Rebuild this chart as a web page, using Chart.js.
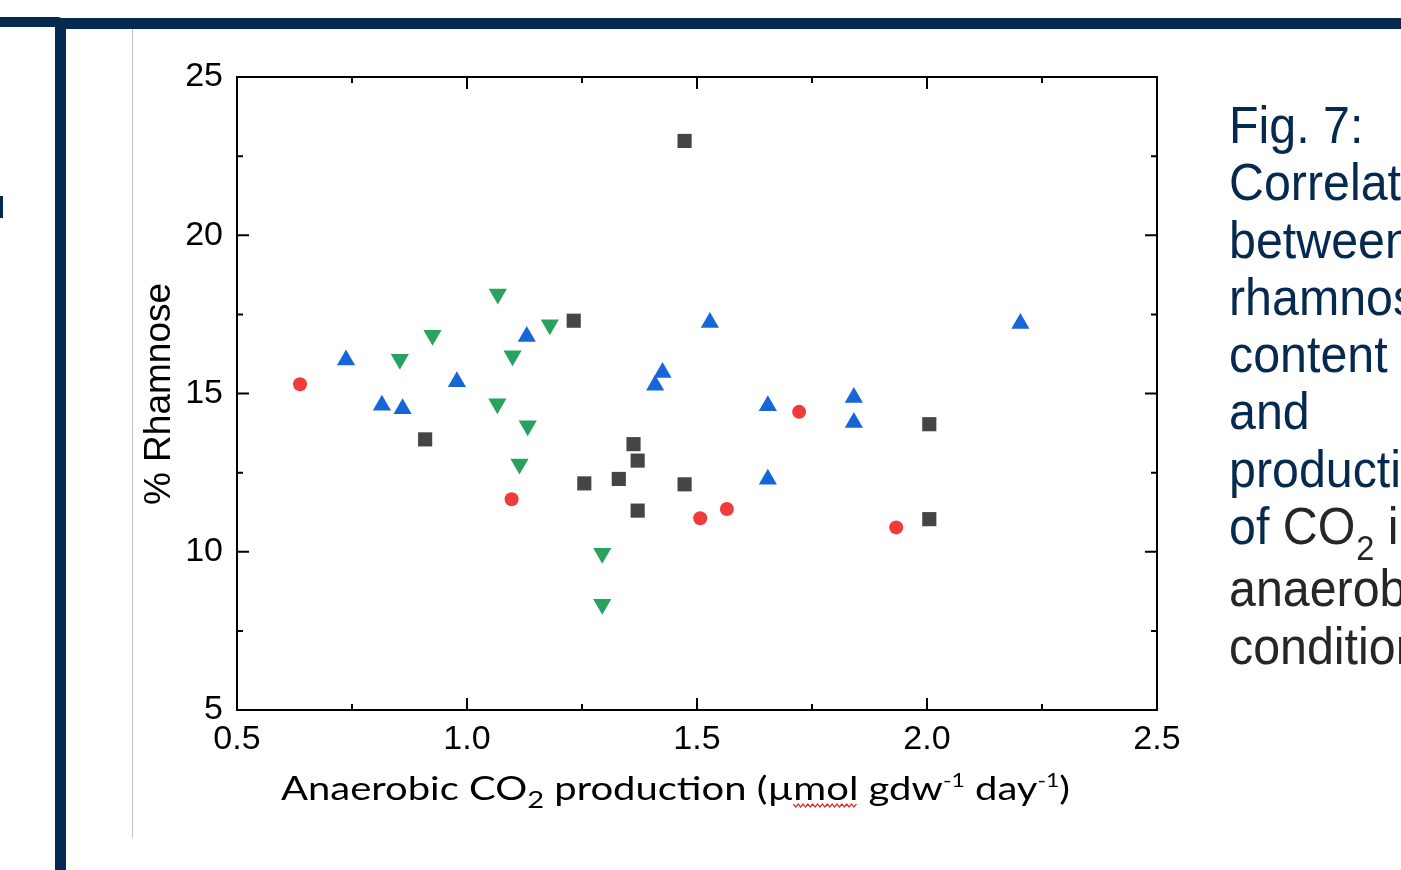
<!DOCTYPE html>
<html>
<head>
<meta charset="utf-8">
<script src="https://cdn.jsdelivr.net/npm/chart.js@4.4.1/dist/chart.umd.min.js"></script>
<style>
  body { margin: 0; background: #fff; }
  #wrap { position: relative; width: 1401px; height: 870px; overflow: hidden; background: #fff; }
  .navy { position: absolute; background: #062a4f; }
  #gline { position: absolute; left: 132px; top: 29px; width: 1px; height: 809px; background: #c4c4c4; }
  #chart { position: absolute; left: 0; top: 0; }
  #caption {
    position: absolute; left: 1229px; top: 97px; white-space: nowrap;
    font-family: "Liberation Sans", Arial, sans-serif; font-size: 52px; line-height: 57.3px;
    color: #062a4f; transform: scaleX(0.93); transform-origin: 0 0;
  }
  #caption .dk { color: #262626; }
  #caption .sub { font-size: 35px; position: relative; top: 16px; margin-left: 1px; }
</style>
</head>
<body>
<div id="wrap">
  <div class="navy" style="left:0;top:17px;width:62px;height:10px;border-top-right-radius:4px"></div>
  <div class="navy" style="left:55px;top:18px;width:1346px;height:11px"></div>
  <div class="navy" style="left:55px;top:18px;width:11px;height:852px"></div>
  <div class="navy" style="left:0;top:196px;width:3px;height:22px"></div>
  <div id="gline"></div>
  <canvas id="chart" width="1401" height="870"></canvas>
  <div id="caption">Fig. 7:<br>Correlation<br>between<br>rhamnose<br>content<br>and<br>production<br>of <span class="dk">CO<span class="sub">2</span> in</span><br><span class="dk">anaerobic</span><br><span class="dk">conditions</span></div>
</div>
<script>
// tick values
const xTickValues = [0.5, 1.0, 1.5, 2.0, 2.5];
const yTickValues = [5, 10, 15, 20, 25];

// grey squares
const squareX = [1.473, 1.232, 0.909, 1.362, 1.371, 1.255, 1.330, 1.473, 1.371, 2.005, 2.005];
const squareY = [22.98, 17.30, 13.55, 13.40, 12.88, 12.16, 12.30, 12.13, 11.30, 14.03, 11.03];

// red circles
const circleX = [0.637, 1.097, 1.507, 1.565, 1.722, 1.933];
const circleY = [15.29, 11.66, 11.06, 11.35, 14.42, 10.77];

// blue up-triangles
const upX = [0.737, 0.815, 0.860, 0.978, 1.130, 1.528, 1.425, 1.409, 1.654, 1.841, 1.841, 1.654, 2.203];
const upY = [16.06, 14.63, 14.52, 15.37, 16.80, 17.24, 15.66, 15.26, 14.61, 14.87, 14.08, 12.29, 17.21];

// green down-triangles
const downX = [1.067, 0.925, 0.854, 1.180, 1.099, 1.066, 1.132, 1.114, 1.294, 1.294];
const downY = [18.14, 16.84, 16.08, 17.17, 16.19, 14.68, 13.98, 12.77, 9.95, 8.34];

const xTitleParts = [
  { t: 'Anaerobic CO', k: 'n' },
  { t: '2', k: 'sub' },
  { t: ' production (\u00b5', k: 'n' },
  { t: 'mol', k: 'n', squiggle: true },
  { t: ' gdw', k: 'n' },
  { t: '-1', k: 'sup' },
  { t: ' day', k: 'n' },
  { t: '-1', k: 'sup' },
  { t: ')', k: 'n' }
];
const yTitle = '% Rhamnose';

function pts(xs, ys) {
  return xs.map((x, i) => ({ x: x, y: ys[i] }));
}

const tickFont = { family: '"Liberation Sans", Arial, sans-serif', size: 34 };

// box + inward ticks on all four sides
const frame = {
  id: 'frame',
  afterDatasetsDraw(chart) {
    const ctx = chart.ctx;
    const a = chart.chartArea;
    const xs = chart.scales.x, ys = chart.scales.y;
    ctx.save();
    ctx.strokeStyle = '#000';
    ctx.lineWidth = 2;
    ctx.strokeRect(a.left, a.top, a.right - a.left, a.bottom - a.top);
    ctx.beginPath();
    for (let i = 0; i < xTickValues.length; i++) {
      const px = xs.getPixelForValue(xTickValues[i]);
      ctx.moveTo(px, a.bottom); ctx.lineTo(px, a.bottom - 12);
      ctx.moveTo(px, a.top); ctx.lineTo(px, a.top + 12);
      if (i < xTickValues.length - 1) {
        const mx = xs.getPixelForValue((xTickValues[i] + xTickValues[i + 1]) / 2);
        ctx.moveTo(mx, a.bottom); ctx.lineTo(mx, a.bottom - 6);
        ctx.moveTo(mx, a.top); ctx.lineTo(mx, a.top + 6);
      }
    }
    for (let i = 0; i < yTickValues.length; i++) {
      const py = ys.getPixelForValue(yTickValues[i]);
      ctx.moveTo(a.left, py); ctx.lineTo(a.left + 12, py);
      ctx.moveTo(a.right, py); ctx.lineTo(a.right - 12, py);
      if (i < yTickValues.length - 1) {
        const my = ys.getPixelForValue((yTickValues[i] + yTickValues[i + 1]) / 2);
        ctx.moveTo(a.left, my); ctx.lineTo(a.left + 6, my);
        ctx.moveTo(a.right, my); ctx.lineTo(a.right - 6, my);
      }
    }
    ctx.stroke();
    ctx.restore();
  }
};

// axis titles with sub/superscripts
const titles = {
  id: 'titles',
  afterDraw(chart) {
    const ctx = chart.ctx;
    const fonts = { n: '33px Lato', sub: '24px Lato', sup: '19px Lato' };
    const shift = { n: 0, sub: 8, sup: -13 };
    ctx.save();
    let total = 0;
    const widths = xTitleParts.map(p => {
      ctx.font = fonts[p.k];
      const w = ctx.measureText(p.t).width;
      total += w;
      return w;
    });
    const left = 281, right = 1070, base = 800;
    ctx.translate(left, base);
    ctx.scale((right - left) / total, 1);
    ctx.fillStyle = '#000';
    ctx.textBaseline = 'alphabetic';
    let x = 0;
    xTitleParts.forEach((p, i) => {
      ctx.font = fonts[p.k];
      ctx.fillText(p.t, x, shift[p.k]);
      if (p.squiggle) {
        ctx.save();
        ctx.strokeStyle = '#e02828';
        ctx.lineWidth = 1.2;
        ctx.beginPath();
        let up = true;
        for (let sx = x; sx <= x + widths[i]; sx += 2) {
          const yy = up ? 4 : 7;
          if (sx === x) ctx.moveTo(sx, yy); else ctx.lineTo(sx, yy);
          up = !up;
        }
        ctx.stroke();
        ctx.restore();
      }
      x += widths[i];
    });
    ctx.restore();

    ctx.save();
    ctx.translate(170, 394);
    ctx.rotate(-Math.PI / 2);
    ctx.font = '37px "Liberation Sans", Arial, sans-serif';
    ctx.fillStyle = '#000';
    ctx.textAlign = 'center';
    ctx.textBaseline = 'alphabetic';
    ctx.fillText(yTitle, 0, 0);
    ctx.restore();
  }
};

new Chart(document.getElementById('chart'), {
  type: 'scatter',
  data: {
    datasets: [
      {
        label: 'squares', data: pts(squareX, squareY),
        pointStyle: 'rect', pointRadius: 10, backgroundColor: '#454545', borderWidth: 0
      },
      {
        label: 'circles', data: pts(circleX, circleY),
        pointStyle: 'circle', pointRadius: 7, backgroundColor: '#f03b3b', borderWidth: 0
      },
      {
        label: 'up', data: pts(upX, upY),
        pointStyle: 'triangle', pointRadius: 10.5, backgroundColor: '#1766d8', borderWidth: 0
      },
      {
        label: 'down', data: pts(downX, downY),
        pointStyle: 'triangle', pointRotation: 180, pointRadius: 10.5, backgroundColor: '#28a25e', borderWidth: 0
      }
    ]
  },
  options: {
    responsive: false,
    animation: false,
    events: [],
    layout: { padding: { left: 0, top: 77, right: 244, bottom: 0 } },
    plugins: { legend: { display: false }, tooltip: { enabled: false } },
    scales: {
      x: {
        type: 'linear', min: 0.5, max: 2.5,
        grid: { display: false, drawTicks: false },
        border: { display: false },
        afterBuildTicks: s => { s.ticks = xTickValues.map(v => ({ value: v })); },
        afterFit: s => { s.height = 160; },
        ticks: {
          padding: 9, color: '#000', font: tickFont, maxRotation: 0,
          callback: v => Number(v).toFixed(1)
        }
      },
      y: {
        type: 'linear', min: 5, max: 25,
        grid: { display: false, drawTicks: false },
        border: { display: false },
        afterBuildTicks: s => { s.ticks = yTickValues.map(v => ({ value: v })); },
        afterFit: s => { s.width = 237; },
        ticks: { padding: 14, color: '#000', font: tickFont, callback: v => String(v) }
      }
    }
  },
  plugins: [frame, titles]
});
</script>
</body>
</html>
